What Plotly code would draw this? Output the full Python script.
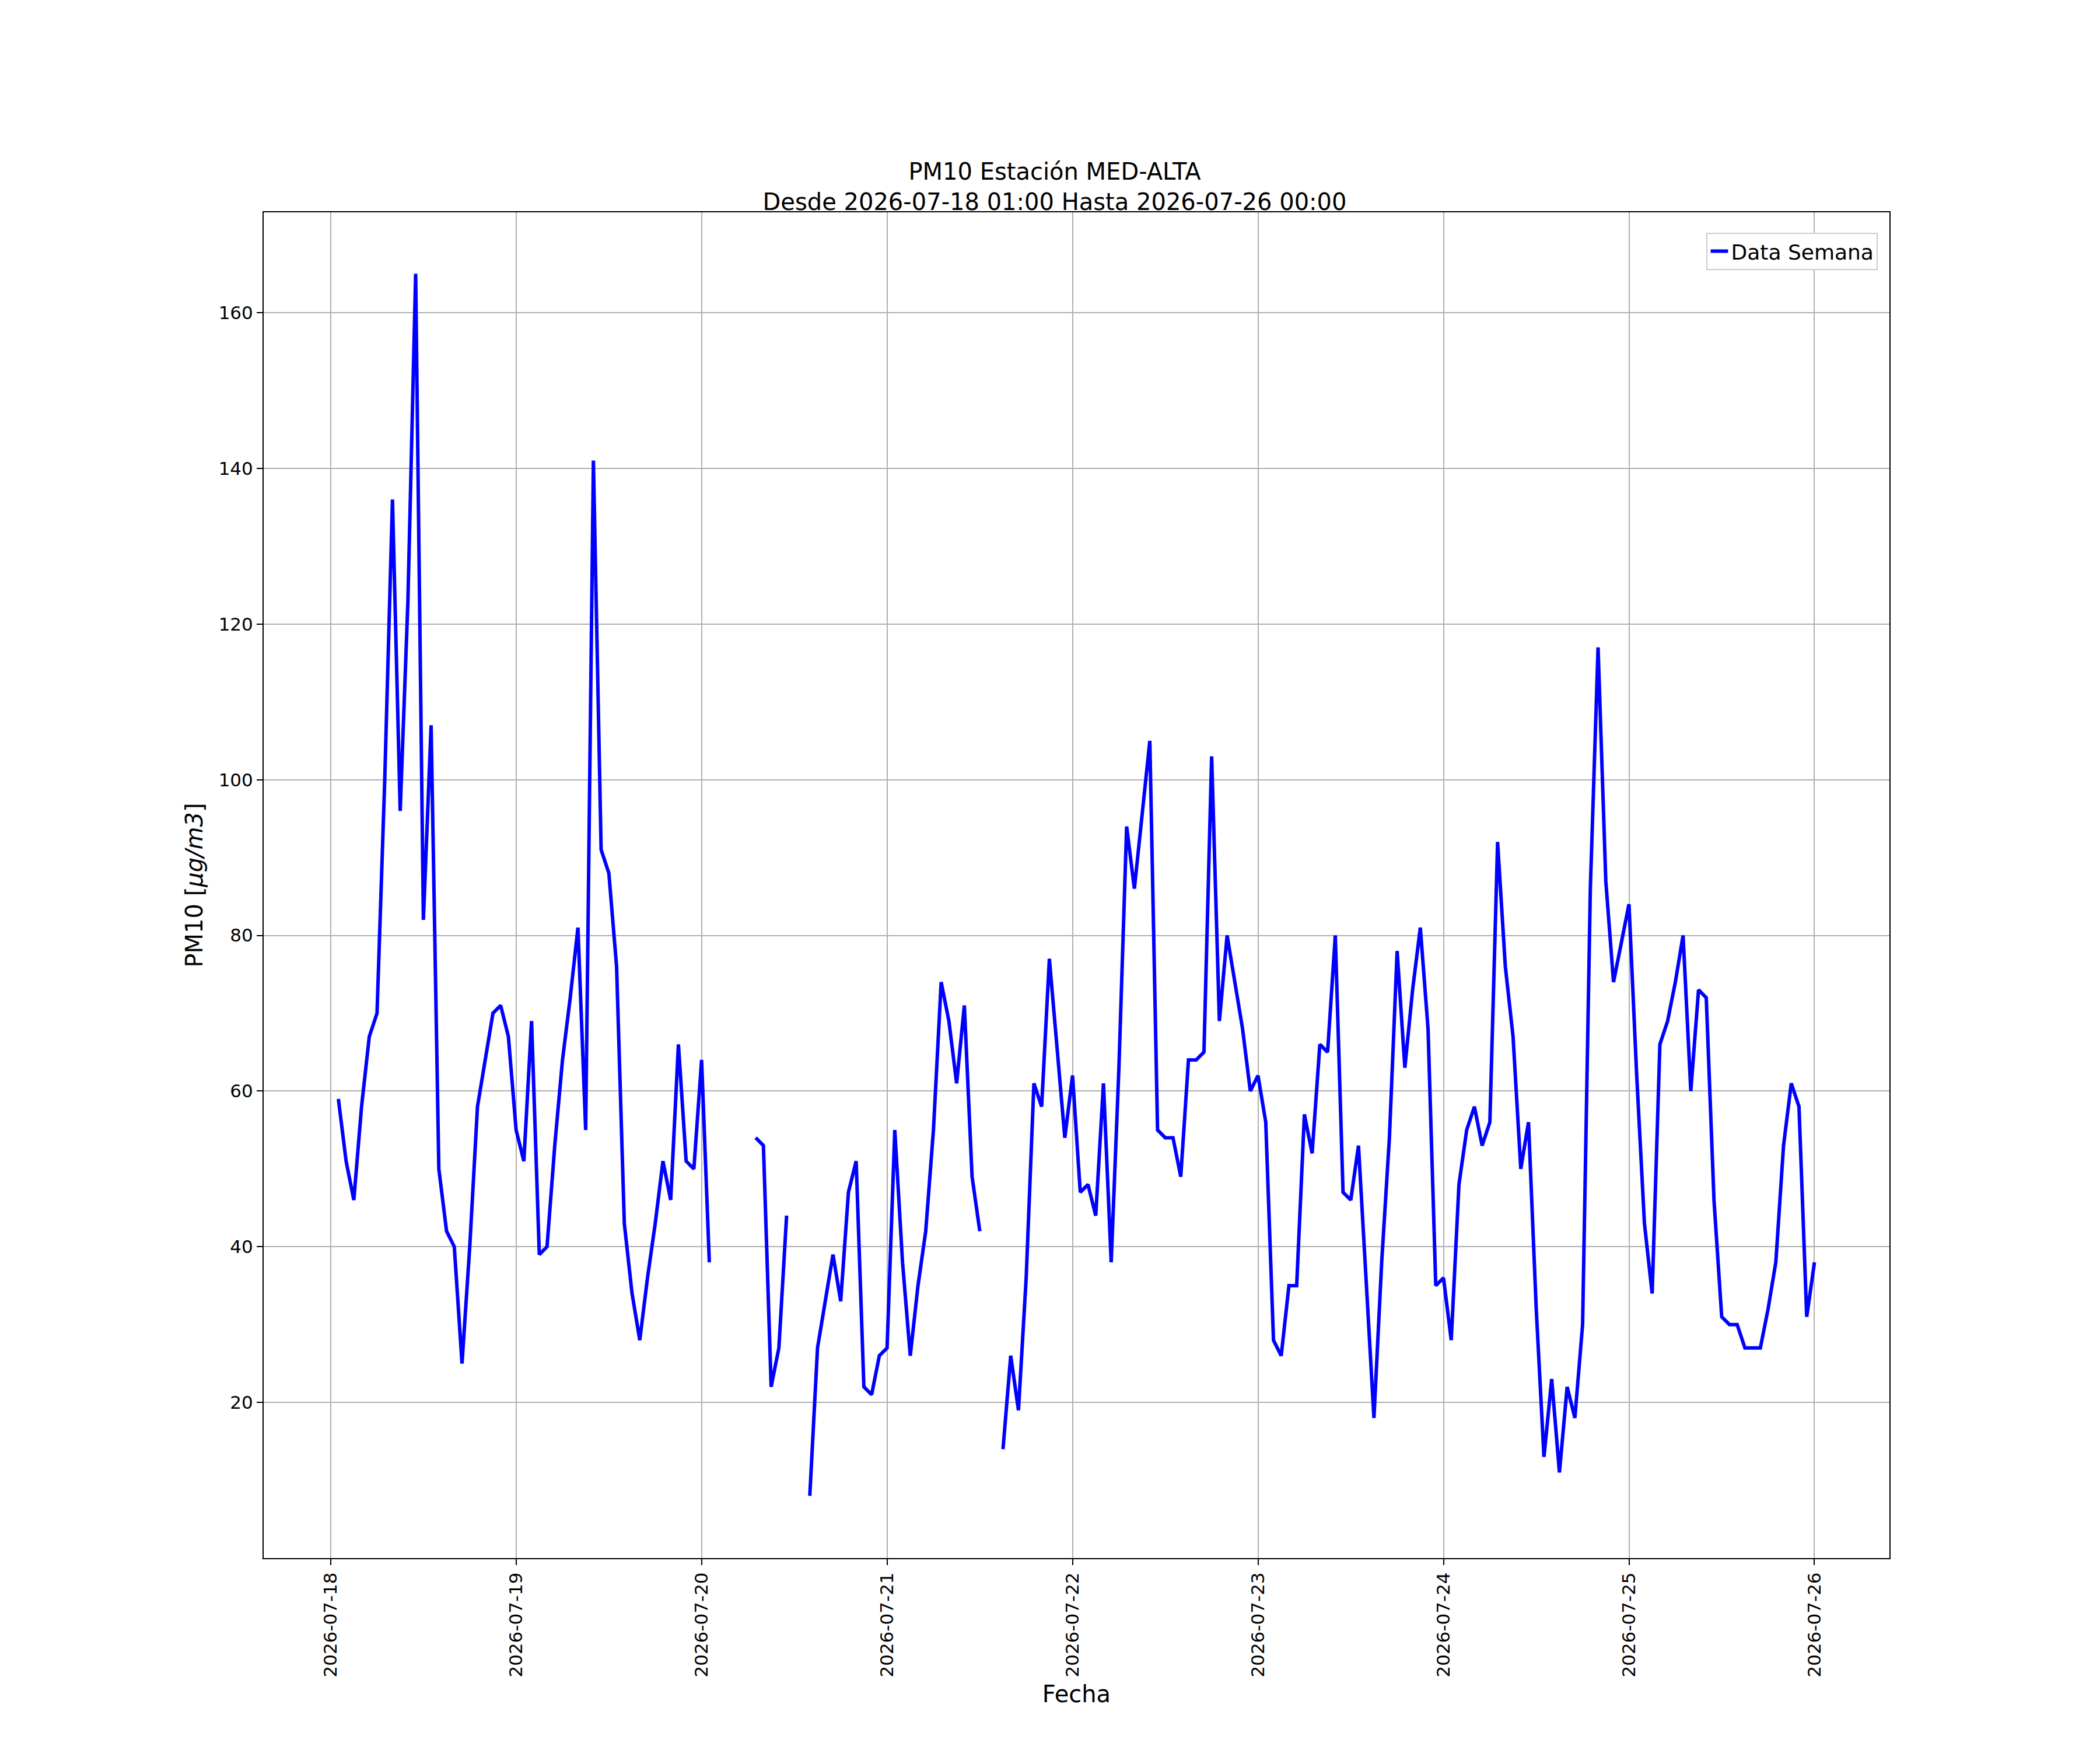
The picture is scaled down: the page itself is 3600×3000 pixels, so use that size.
import pandas as pd
import plotly.graph_objects as go

# hourly PM10 values, 2026-07-18 01:00 .. 2026-07-26 00:00 (None = no data)
start = '2026-07-18 01:00'
pm10 = [
    59, 51, 46, 58, 67, 70, 100, 136, 96, 123, 165, 82, 107, 50, 42, 40, 25, 40, 58, 64, 70, 71, 67, 55,
    51, 69, 39, 40, 53, 64, 72, 81, 55, 141, 91, 88, 76, 43, 34, 28, 36, 43, 51, 46, 66, 51, 50, 64,
    38, None, None, None, None, None, 54, 53, 22, 27, 44, None, None, 8, 27, 33, 39, 33, 47, 51, 22, 21, 26, 27,
    55, 38, 26, 35, 42, 55, 74, 69, 61, 71, 49, 42, None, None, 14, 26, 19, 36, 61, 58, 77, 66, 54, 62,
    47, 48, 44, 61, 38, 63, 94, 86, 96, 105, 55, 54, 54, 49, 64, 64, 65, 103, 69, 80, 74, 68, 60, 62,
    56, 28, 26, 35, 35, 57, 52, 66, 65, 80, 47, 46, 53, 35, 18, 38, 54, 78, 63, 73, 81, 68, 35, 36,
    28, 48, 55, 58, 53, 56, 92, 76, 67, 50, 56, 32, 13, 23, 11, 22, 18, 30, 86, 117, 87, 74, 79, 84,
    62, 43, 34, 66, 69, 74, 80, 60, 73, 72, 46, 31, 30, 30, 27, 27, 27, 32, 38, 53, 61, 58, 31, 38,
]
fechas = pd.date_range(start, periods=len(pm10), freq='h')
tick_dates = pd.date_range('2026-07-18', '2026-07-26', freq='D')

fig = go.Figure()
fig.add_trace(go.Scatter(x=fechas, y=pm10, mode='lines', name='Data Semana',
                         line=dict(color='blue', width=6), connectgaps=False))

axis_style = dict(showline=True, linecolor='black', linewidth=2, mirror=True,
                  showgrid=True, gridcolor='#b0b0b0', gridwidth=2, zeroline=False,
                  ticks='outside', ticklen=10, tickwidth=2, tickcolor='black',
                  tickfont=dict(size=31, color='black'))

fig.update_layout(
    width=3600, height=3000,
    paper_bgcolor='white', plot_bgcolor='white',
    font=dict(family='DejaVu Sans', color='black'),
    margin=dict(l=444, r=369, t=356, b=337),
    title=dict(text='PM10 Estación MED-ALTA<br>Desde 2026-07-18 01:00 Hasta 2026-07-26 00:00',
               x=0.5, xanchor='center', y=0.9, yanchor='bottom', font=dict(size=40)),
    xaxis=dict(axis_style, title=dict(text='Fecha', font=dict(size=40)),
               range=[pd.Timestamp('2026-07-17 15:20'), pd.Timestamp('2026-07-26 09:42')],
               tickvals=tick_dates, ticktext=[d.strftime('%Y-%m-%d') for d in tick_dates],
               tickangle=-90),
    yaxis=dict(axis_style, title=dict(text='PM10 [<i>μg/m3</i>]', font=dict(size=40)),
               range=[0, 172.9], tickvals=[20, 40, 60, 80, 100, 120, 140, 160]),
    legend=dict(x=0.993, y=0.985, xanchor='right', yanchor='top', bgcolor='white',
                bordercolor='#cccccc', borderwidth=2, font=dict(size=36)),
    showlegend=True,
)

fig.write_html("out.html")
